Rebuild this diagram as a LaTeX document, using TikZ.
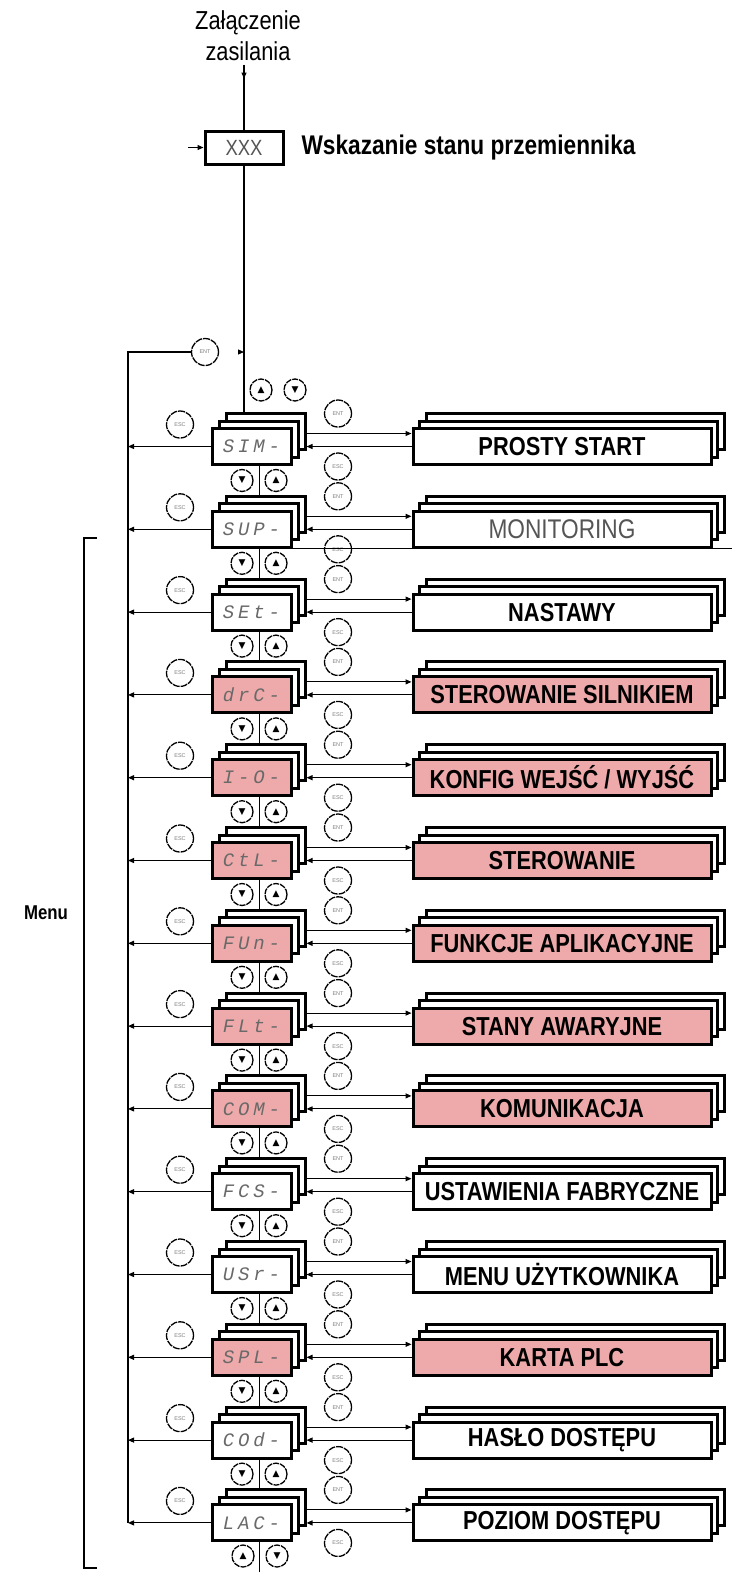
\documentclass[tikz,border=0pt]{standalone}
\usepackage{fontspec}
\setmainfont{Liberation Sans}
\newfontfamily\nar[FakeStretch=0.84]{Liberation Sans}
\newfontfamily\seg[LetterSpace=20]{Liberation Mono}
\newfontfamily\djv{DejaVu Sans}
\usetikzlibrary{arrows.meta,decorations.markings}
\definecolor{pinkf}{RGB}{238,170,170}
\definecolor{segc}{RGB}{105,105,105}
\definecolor{grtx}{RGB}{85,85,85}
\tikzset{
  conn/.style={line width=1.1pt, -{Triangle[length=6pt,width=5pt]}},
  plain/.style={line width=1.1pt},
  dispbox/.style={draw, line width=3pt, minimum width=79pt, minimum height=36pt, inner sep=0pt, fill=white,
    font=\seg\itshape\fontsize{19}{19}\selectfont, text=segc},
  txtbox/.style={draw, line width=3pt, minimum width=298pt, minimum height=36pt, inner sep=0pt, fill=white,
    font=\nar\bfseries\fontsize{26}{26}\selectfont},
  graylab/.style={font=\nar\fontsize{27}{27}\selectfont, text=grtx},
  keybtn/.style={circle, draw, line width=1.3pt, minimum size=27pt, inner sep=0pt, fill=white,
    font=\fontsize{5.5}{5.5}\selectfont, text=gray, dash pattern=on 7pt off 1pt},
  arrbtn/.style={circle, draw, line width=1.3pt, minimum size=22pt, inner sep=0pt, fill=white,
    font=\djv\fontsize{9}{9}\selectfont, dash pattern=on 6pt off 1pt},
}
% #1 id, #2 y, #3 code, #4 label, #5 fill, #6 extra label style
\newcommand{\mrow}[6]{%
  \node[dispbox] (d#1c) at (265.5,#2-15) {};
  \node[dispbox] (d#1b) at (258.5,#2-7.5) {};
  \node[dispbox, fill=#5] (d#1) at (251.5,#2) {#3};
  \node[txtbox] (t#1c) at (575,#2-15) {};
  \node[txtbox] (t#1b) at (568.5,#2-7.5) {};
  \node[txtbox, fill=#5, #6] (t#1) at (562,#2) {#4};
  \draw[conn] (d#1.west) -- (d#1.west -| lv);
  \path (t#1.west) ++(0,-13) coordinate (t#1u);
  \draw[conn] (t#1u -| d#1c.east) -- (t#1u);
  \draw[conn] (t#1.west) -- (t#1.west -| d#1c.east);
  \node[keybtn] (el#1) at (180,#2-22) {ESC};
  \node[keybtn] (en#1) at (338,#2-33) {ENT};
  \node[keybtn] (er#1) at (338,#2+20) {ESC};
}
% #1 upper id, #2 lower id, #3 y of upper row
\newcommand{\mlink}[3]{%
  \draw[plain] (d#1.south -| chain) -- (d#2c.north -| chain);
  \node[arrbtn] (bd#1) at (242,#3+34) {▼};
  \node[arrbtn] (bu#1) at (276,#3+34) {▲};
}
\begin{document}
\begin{tikzpicture}[x=1pt,y=-1pt]
\useasboundingbox (0,0) rectangle (732,1572);
\fill[white] (0,0) rectangle (732,1572);
\coordinate (lv) at (128,355);
\coordinate (chain) at (259.5,0);
\coordinate (redge) at (732,0);
% top
\node[font=\nar\fontsize{26}{31}\selectfont, align=center] (zas) at (248,36) {Załączenie\\zasilania};
\node[draw, line width=3pt, minimum width=78pt, minimum height=33pt, inner sep=0pt,
  font=\nar\fontsize{22}{22}\selectfont, text=grtx] (xxx) at (244,147.5) {XXX};
\node[anchor=west, font=\nar\bfseries\fontsize{27}{27}\selectfont] (wsk) at (298,147.5) {Wskazanie stanu przemiennika};
\coordinate (xin) at (188,147.5);
\draw[conn] (xin) -- (xxx.west);
\draw[plain, postaction={decorate}, decoration={markings, mark=at position 14pt with {\arrow{Triangle[length=6pt,width=5pt]}}}]
  (zas.south -| xxx.north) -- (xxx.north);
% rows
\mrow{1}{446.5}{SIM-}{PROSTY START}{white}{}
\mrow{2}{529.3}{SUP-}{\textmd{MONITORING}}{white}{graylab}
\mrow{3}{612.1}{SEt-}{NASTAWY}{white}{}
\mrow{4}{694.9}{drC-}{STEROWANIE SILNIKIEM}{pinkf}{}
\mrow{5}{777.7}{I-O-}{KONFIG WEJŚĆ / WYJŚĆ}{pinkf}{}
\mrow{6}{860.5}{CtL-}{STEROWANIE}{pinkf}{}
\mrow{7}{943.3}{FUn-}{FUNKCJE APLIKACYJNE}{pinkf}{}
\mrow{8}{1026.1}{FLt-}{STANY AWARYJNE}{pinkf}{}
\mrow{9}{1108.9}{COM-}{KOMUNIKACJA}{pinkf}{}
\mrow{10}{1191.7}{FCS-}{USTAWIENIA FABRYCZNE}{white}{}
\mrow{11}{1274.5}{USr-}{MENU UŻYTKOWNIKA}{white}{}
\mrow{12}{1357.3}{SPL-}{KARTA PLC}{pinkf}{}
\mrow{13}{1440.1}{COd-}{HASŁO DOSTĘPU}{white}{}
\mrow{14}{1522.9}{LAC-}{POZIOM DOSTĘPU}{white}{}
\mlink{1}{2}{446.5}
\mlink{2}{3}{529.3}
\mlink{3}{4}{612.1}
\mlink{4}{5}{694.9}
\mlink{5}{6}{777.7}
\mlink{6}{7}{860.5}
\mlink{7}{8}{943.3}
\mlink{8}{9}{1026.1}
\mlink{9}{10}{1108.9}
\mlink{10}{11}{1191.7}
\mlink{11}{12}{1274.5}
\mlink{12}{13}{1357.3}
\mlink{13}{14}{1440.1}
% main line from XXX down to first menu box
\draw[plain] (xxx.south) -- (xxx.south |- d1c.north);
\coordinate (jn) at (244,352);
\node[keybtn] (ent0) at (205,352) {ENT};
\draw[plain] (ent0.west) -- (ent0.west -| lv) -- (lv |- d14.west);
\draw[conn, shorten <=20pt] (ent0.east) -- (jn);
\node[arrbtn] (bu0) at (261,390) {▲};
\node[arrbtn] (bd0) at (295,390) {▼};
% bottom
\coordinate (bot) at (259.5,1572);
\draw[plain] (d14.south -| chain) -- (bot);
\node[arrbtn] (bu14) at (243,1556) {▲};
\node[arrbtn] (bd14) at (277,1556) {▼};
% monitoring extra line
\draw[plain] (d2.south east) -- (d2.south east -| redge);
% Menu bracket
\coordinate (mt) at (97,538);
\coordinate (mb) at (97,1568);
\draw[line width=1.2pt] (mt) -- ++(-13,0) -- (84,1568) -- (mb);
\node[font=\nar\bfseries\fontsize{20}{20}\selectfont] (menu) at (46,913) {Menu};
\end{tikzpicture}
\end{document}
